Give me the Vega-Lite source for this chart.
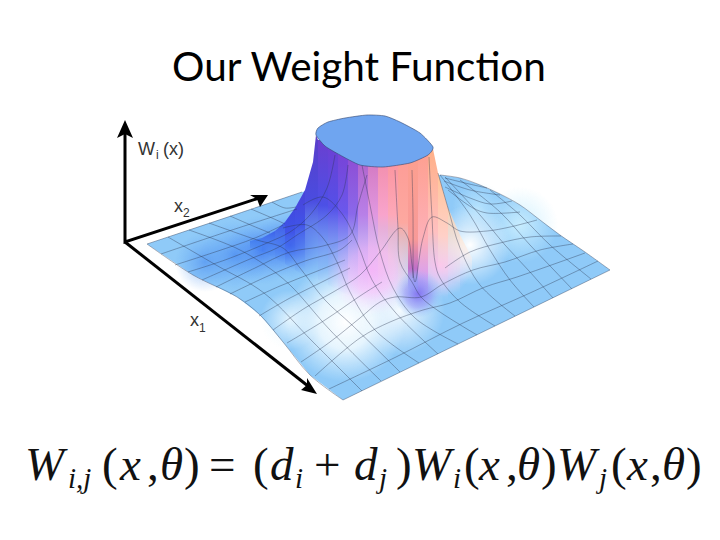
{"$schema":"https://vega.github.io/schema/vega-lite/v6.json","width":720,"height":540,"padding":0,"autosize":"none","background":"white","view":{"stroke":null},
"encoding":{"x":{"field":"x","type":"quantitative","scale":{"domain":[0,720],"nice":false,"zero":false},"axis":null},"y":{"field":"y","type":"quantitative","scale":{"domain":[540,0],"nice":false,"zero":false},"axis":null},"order":{"value":null}},
"layer":[
{"data":{"values":[{"x":147,"y":244},{"x":193,"y":275},{"x":237,"y":297},{"x":260,"y":315},{"x":283,"y":342},{"x":310,"y":375},{"x":343,"y":400},{"x":610,"y":270},{"x":585,"y":252},{"x":560,"y":235},{"x":540,"y":220},{"x":520,"y":205},{"x":500,"y":194},{"x":480,"y":185},{"x":460,"y":178},{"x":440,"y":175},{"x":400,"y":170},{"x":302,"y":192}]},"mark":{"type":"line","fill":"#8fcaf8","strokeWidth":0}},
{"data":{"values":[{"x":482,"y":187},{"x":558,"y":187},{"x":558,"y":263},{"x":482,"y":263}]},"mark":{"type":"line","strokeWidth":0,"fill":{"gradient":"radial","x1":0.5,"y1":0.5,"x2":0.5,"y2":0.5,"r1":0,"r2":0.5,"stops":[{"offset":0,"color":"rgba(205,240,255,0.9)"},{"offset":1,"color":"rgba(205,240,255,0)"}]}}},
{"data":{"values":[{"x":452,"y":182},{"x":504,"y":182},{"x":504,"y":234},{"x":452,"y":234}]},"mark":{"type":"line","strokeWidth":0,"fill":{"gradient":"radial","x1":0.5,"y1":0.5,"x2":0.5,"y2":0.5,"r1":0,"r2":0.5,"stops":[{"offset":0,"color":"rgba(190,232,255,0.8)"},{"offset":1,"color":"rgba(190,232,255,0)"}]}}},
{"data":{"values":[{"x":175,"y":232},{"x":235,"y":232},{"x":235,"y":292},{"x":175,"y":292}]},"mark":{"type":"line","strokeWidth":0,"fill":{"gradient":"radial","x1":0.5,"y1":0.5,"x2":0.5,"y2":0.5,"r1":0,"r2":0.5,"stops":[{"offset":0,"color":"rgba(70,135,240,0.6)"},{"offset":1,"color":"rgba(90,160,245,0)"}]}}},
{"data":{"values":[{"x":200,"y":220},{"x":270,"y":220},{"x":270,"y":290},{"x":200,"y":290}]},"mark":{"type":"line","strokeWidth":0,"fill":{"gradient":"radial","x1":0.5,"y1":0.5,"x2":0.5,"y2":0.5,"r1":0,"r2":0.5,"stops":[{"offset":0,"color":"rgba(60,125,240,0.65)"},{"offset":1,"color":"rgba(90,160,245,0)"}]}}},
{"data":{"values":[{"x":227,"y":215},{"x":297,"y":215},{"x":297,"y":285},{"x":227,"y":285}]},"mark":{"type":"line","strokeWidth":0,"fill":{"gradient":"radial","x1":0.5,"y1":0.5,"x2":0.5,"y2":0.5,"r1":0,"r2":0.5,"stops":[{"offset":0,"color":"rgba(50,105,240,0.75)"},{"offset":1,"color":"rgba(90,160,245,0)"}]}}},
{"data":{"values":[{"x":255,"y":210},{"x":325,"y":210},{"x":325,"y":280},{"x":255,"y":280}]},"mark":{"type":"line","strokeWidth":0,"fill":{"gradient":"radial","x1":0.5,"y1":0.5,"x2":0.5,"y2":0.5,"r1":0,"r2":0.5,"stops":[{"offset":0,"color":"rgba(50,90,240,0.8)"},{"offset":1,"color":"rgba(90,160,245,0)"}]}}},
{"data":{"values":[{"x":260,"y":290},{"x":320,"y":290},{"x":320,"y":350},{"x":260,"y":350}]},"mark":{"type":"line","strokeWidth":0,"fill":{"gradient":"radial","x1":0.5,"y1":0.5,"x2":0.5,"y2":0.5,"r1":0,"r2":0.5,"stops":[{"offset":0,"color":"rgba(235,248,255,0.9)"},{"offset":1,"color":"rgba(235,248,255,0)"}]}}},
{"data":{"values":[{"x":285,"y":262},{"x":405,"y":262},{"x":405,"y":382},{"x":285,"y":382}]},"mark":{"type":"line","strokeWidth":0,"fill":{"gradient":"radial","x1":0.5,"y1":0.5,"x2":0.5,"y2":0.5,"r1":0,"r2":0.5,"stops":[{"offset":0,"color":"rgba(255,255,255,1)"},{"offset":0.45,"color":"rgba(245,252,255,0.85)"},{"offset":1,"color":"rgba(235,248,255,0)"}]}}},
{"data":{"values":[{"x":355,"y":265},{"x":445,"y":265},{"x":445,"y":355},{"x":355,"y":355}]},"mark":{"type":"line","strokeWidth":0,"fill":{"gradient":"radial","x1":0.5,"y1":0.5,"x2":0.5,"y2":0.5,"r1":0,"r2":0.5,"stops":[{"offset":0,"color":"rgba(255,255,255,0.9)"},{"offset":1,"color":"rgba(255,255,255,0)"}]}}},
{"data":{"values":[{"x":430,"y":205},{"x":510,"y":205},{"x":510,"y":285},{"x":430,"y":285}]},"mark":{"type":"line","strokeWidth":0,"fill":{"gradient":"radial","x1":0.5,"y1":0.5,"x2":0.5,"y2":0.5,"r1":0,"r2":0.5,"stops":[{"offset":0,"color":"rgba(255,255,255,1)"},{"offset":1,"color":"rgba(255,255,255,0)"}]}}},
{"data":{"values":[{"x":327,"y":225},{"x":417,"y":225},{"x":417,"y":315},{"x":327,"y":315}]},"mark":{"type":"line","strokeWidth":0,"fill":{"gradient":"radial","x1":0.5,"y1":0.5,"x2":0.5,"y2":0.5,"r1":0,"r2":0.5,"stops":[{"offset":0,"color":"rgba(245,185,250,1)"},{"offset":0.5,"color":"rgba(250,205,252,0.8)"},{"offset":1,"color":"rgba(252,230,255,0)"}]}}},
{"data":{"values":[{"x":408,"y":233},{"x":472,"y":233},{"x":472,"y":297},{"x":408,"y":297}]},"mark":{"type":"line","strokeWidth":0,"fill":{"gradient":"radial","x1":0.5,"y1":0.5,"x2":0.5,"y2":0.5,"r1":0,"r2":0.5,"stops":[{"offset":0,"color":"rgba(250,190,250,1)"},{"offset":1,"color":"rgba(252,220,255,0)"}]}}},
{"data":{"values":[{"x":250,"y":241},{"x":262,"y":238},{"x":262,"y":252},{"x":250,"y":248}]},"mark":{"type":"line","strokeWidth":0,"fill":{"gradient":"linear","x1":0,"y1":0,"x2":0,"y2":1,"stops":[{"offset":0,"color":"#3f78ee"},{"offset":1,"color":"rgba(60,120,240,0)"}]}}},
{"data":{"values":[{"x":262,"y":238},{"x":275,"y":231},{"x":275,"y":258},{"x":262,"y":252}]},"mark":{"type":"line","strokeWidth":0,"fill":{"gradient":"linear","x1":0,"y1":0,"x2":0,"y2":1,"stops":[{"offset":0,"color":"#3c60ea"},{"offset":1,"color":"rgba(60,120,240,0)"}]}}},
{"data":{"values":[{"x":275,"y":231},{"x":285,"y":222},{"x":285,"y":264},{"x":275,"y":258}]},"mark":{"type":"line","strokeWidth":0,"fill":{"gradient":"linear","x1":0,"y1":0,"x2":0,"y2":1,"stops":[{"offset":0,"color":"#3c52e6"},{"offset":1,"color":"rgba(60,120,240,0)"}]}}},
{"data":{"values":[{"x":285,"y":222},{"x":295,"y":208},{"x":295,"y":270},{"x":285,"y":264}]},"mark":{"type":"line","strokeWidth":0,"fill":{"gradient":"linear","x1":0,"y1":0,"x2":0,"y2":1,"stops":[{"offset":0,"color":"#4048e0"},{"offset":0.4,"color":"#3f55e8"},{"offset":1,"color":"rgba(60,120,240,0)"}]}}},
{"data":{"values":[{"x":295,"y":208},{"x":305,"y":190},{"x":305,"y":276},{"x":295,"y":270}]},"mark":{"type":"line","strokeWidth":0,"fill":{"gradient":"linear","x1":0,"y1":0,"x2":0,"y2":1,"stops":[{"offset":0,"color":"#4a42d8"},{"offset":0.4,"color":"#4052e8"},{"offset":1,"color":"rgba(70,120,240,0)"}]}}},
{"data":{"values":[{"x":305,"y":190},{"x":313,"y":162},{"x":316,"y":135},{"x":318,"y":140},{"x":318,"y":280},{"x":305,"y":276}]},"mark":{"type":"line","strokeWidth":0,"fill":{"gradient":"linear","x1":0,"y1":0,"x2":0,"y2":1,"stops":[{"offset":0,"color":"#5a3ec8"},{"offset":0.45,"color":"#4a4ce0"},{"offset":1,"color":"rgba(90,130,240,0)"}]}}},
{"data":{"values":[{"x":318,"y":140},{"x":328,"y":140},{"x":328,"y":285},{"x":318,"y":280}]},"mark":{"type":"line","strokeWidth":0,"fill":{"gradient":"linear","x1":0,"y1":0,"x2":0,"y2":1,"stops":[{"offset":0,"color":"#6a3fd0"},{"offset":0.45,"color":"#4c50e6"},{"offset":1,"color":"rgba(110,140,245,0)"}]}}},
{"data":{"values":[{"x":328,"y":140},{"x":338,"y":145},{"x":338,"y":290},{"x":328,"y":285}]},"mark":{"type":"line","strokeWidth":0,"fill":{"gradient":"linear","x1":0,"y1":0,"x2":0,"y2":1,"stops":[{"offset":0,"color":"#6e3ed2"},{"offset":0.45,"color":"#5450e8"},{"offset":1,"color":"rgba(140,150,245,0)"}]}}},
{"data":{"values":[{"x":338,"y":145},{"x":348,"y":145},{"x":348,"y":295},{"x":338,"y":290}]},"mark":{"type":"line","strokeWidth":0,"fill":{"gradient":"linear","x1":0,"y1":0,"x2":0,"y2":1,"stops":[{"offset":0,"color":"#7a40d4"},{"offset":0.45,"color":"#6a58ec"},{"offset":1,"color":"rgba(180,170,250,0)"}]}}},
{"data":{"values":[{"x":348,"y":145},{"x":358,"y":145},{"x":358,"y":298},{"x":348,"y":295}]},"mark":{"type":"line","strokeWidth":0,"fill":{"gradient":"linear","x1":0,"y1":0,"x2":0,"y2":1,"stops":[{"offset":0,"color":"#9048d0"},{"offset":0.45,"color":"#8a68ea"},{"offset":1,"color":"rgba(225,190,250,0)"}]}}},
{"data":{"values":[{"x":358,"y":145},{"x":368,"y":145},{"x":368,"y":300},{"x":358,"y":298}]},"mark":{"type":"line","strokeWidth":0,"fill":{"gradient":"linear","x1":0,"y1":0,"x2":0,"y2":1,"stops":[{"offset":0,"color":"#b05cc4"},{"offset":0.45,"color":"#b880e8"},{"offset":1,"color":"rgba(245,190,250,0)"}]}}},
{"data":{"values":[{"x":368,"y":145},{"x":378,"y":145},{"x":378,"y":300},{"x":368,"y":300}]},"mark":{"type":"line","strokeWidth":0,"fill":{"gradient":"linear","x1":0,"y1":0,"x2":0,"y2":1,"stops":[{"offset":0,"color":"#d070b8"},{"offset":0.45,"color":"#e098e0"},{"offset":1,"color":"rgba(250,190,250,0)"}]}}},
{"data":{"values":[{"x":378,"y":145},{"x":388,"y":145},{"x":388,"y":300},{"x":378,"y":300}]},"mark":{"type":"line","strokeWidth":0,"fill":{"gradient":"linear","x1":0,"y1":0,"x2":0,"y2":1,"stops":[{"offset":0,"color":"#f088a4"},{"offset":0.45,"color":"#f8a4cc"},{"offset":1,"color":"rgba(250,195,245,0)"}]}}},
{"data":{"values":[{"x":388,"y":145},{"x":398,"y":145},{"x":398,"y":300},{"x":388,"y":300}]},"mark":{"type":"line","strokeWidth":0,"fill":{"gradient":"linear","x1":0,"y1":0,"x2":0,"y2":1,"stops":[{"offset":0,"color":"#fb8f98"},{"offset":0.45,"color":"#fda8b8"},{"offset":1,"color":"rgba(252,205,240,0)"}]}}},
{"data":{"values":[{"x":398,"y":145},{"x":408,"y":145},{"x":408,"y":300},{"x":398,"y":300}]},"mark":{"type":"line","strokeWidth":0,"fill":{"gradient":"linear","x1":0,"y1":0,"x2":0,"y2":1,"stops":[{"offset":0,"color":"#fd9a94"},{"offset":0.5,"color":"#fda8a0"},{"offset":1,"color":"rgba(252,225,240,0)"}]}}},
{"data":{"values":[{"x":408,"y":145},{"x":418,"y":145},{"x":418,"y":290},{"x":408,"y":290}]},"mark":{"type":"line","strokeWidth":0,"fill":{"gradient":"linear","x1":0,"y1":0,"x2":0,"y2":1,"stops":[{"offset":0,"color":"#fda08e"},{"offset":0.65,"color":"#f89a98"},{"offset":0.85,"color":"#c070c8"},{"offset":1,"color":"rgba(140,110,240,0)"}]}}},
{"data":{"values":[{"x":418,"y":145},{"x":428,"y":150},{"x":428,"y":300},{"x":418,"y":300}]},"mark":{"type":"line","strokeWidth":0,"fill":{"gradient":"linear","x1":0,"y1":0,"x2":0,"y2":1,"stops":[{"offset":0,"color":"#fe9e8c"},{"offset":0.6,"color":"#fdb0b8"},{"offset":0.85,"color":"#d8a0f0"},{"offset":1,"color":"rgba(200,170,250,0)"}]}}},
{"data":{"values":[{"x":428,"y":152},{"x":433,"y":149},{"x":438,"y":173},{"x":438,"y":300},{"x":428,"y":300}]},"mark":{"type":"line","strokeWidth":0,"fill":{"gradient":"linear","x1":0,"y1":0,"x2":0,"y2":1,"stops":[{"offset":0,"color":"#ffb088"},{"offset":0.55,"color":"#ffc0c0"},{"offset":1,"color":"rgba(248,200,250,0)"}]}}},
{"data":{"values":[{"x":438,"y":173},{"x":448,"y":208},{"x":448,"y":300},{"x":438,"y":300}]},"mark":{"type":"line","strokeWidth":0,"fill":{"gradient":"linear","x1":0,"y1":0,"x2":0,"y2":1,"stops":[{"offset":0,"color":"#ffc498"},{"offset":0.5,"color":"#ffd0c8"},{"offset":1,"color":"rgba(250,210,250,0)"}]}}},
{"data":{"values":[{"x":448,"y":208},{"x":460,"y":235},{"x":460,"y":295},{"x":448,"y":295}]},"mark":{"type":"line","strokeWidth":0,"fill":{"gradient":"linear","x1":0,"y1":0,"x2":0,"y2":1,"stops":[{"offset":0,"color":"#ffd4b0"},{"offset":1,"color":"rgba(255,235,245,0)"}]}}},
{"data":{"values":[{"x":460,"y":235},{"x":472,"y":258},{"x":472,"y":280},{"x":460,"y":280}]},"mark":{"type":"line","strokeWidth":0,"fill":{"gradient":"linear","x1":0,"y1":0,"x2":0,"y2":1,"stops":[{"offset":0,"color":"rgba(255,230,210,0.9)"},{"offset":1,"color":"rgba(255,245,250,0)"}]}}},
{"data":{"values":[{"x":394,"y":270},{"x":442,"y":270},{"x":442,"y":318},{"x":394,"y":318}]},"mark":{"type":"line","strokeWidth":0,"fill":{"gradient":"radial","x1":0.5,"y1":0.5,"x2":0.5,"y2":0.5,"r1":0,"r2":0.5,"stops":[{"offset":0,"color":"rgba(125,105,240,0.9)"},{"offset":0.55,"color":"rgba(140,140,245,0.55)"},{"offset":1,"color":"rgba(140,190,250,0)"}]}}},
{"data":{"values":[
{"g":"e1","x":147,"y":244},{"g":"e1","x":193,"y":275},{"g":"e1","x":237,"y":297},{"g":"e1","x":260,"y":315},{"g":"e1","x":283,"y":342},{"g":"e1","x":310,"y":375},{"g":"e1","x":343,"y":400},
{"g":"e2","x":343,"y":400},{"g":"e2","x":610,"y":270},
{"g":"e3","x":610,"y":270},{"g":"e3","x":585,"y":252},{"g":"e3","x":560,"y":235},{"g":"e3","x":540,"y":220},{"g":"e3","x":520,"y":205},{"g":"e3","x":500,"y":194},{"g":"e3","x":480,"y":185},{"g":"e3","x":460,"y":178},{"g":"e3","x":440,"y":175},
{"g":"e4","x":147,"y":244},{"g":"e4","x":225,"y":218},{"g":"e4","x":302,"y":192},
{"g":"j1","x":161,"y":254},{"g":"j1","x":229,"y":231},{"g":"j1","x":297,"y":209},
{"g":"j2","x":175,"y":265},{"g":"j2","x":215,"y":252},{"g":"j2","x":255,"y":238},{"g":"j2","x":283,"y":225},
{"g":"j3","x":188,"y":272},{"g":"j3","x":225,"y":260},{"g":"j3","x":267,"y":243},{"g":"j3","x":290,"y":232},{"g":"j3","x":310,"y":215},{"g":"j3","x":327,"y":188},{"g":"j3","x":335,"y":155},
{"g":"j4","x":202,"y":280},{"g":"j4","x":250,"y":259},{"g":"j4","x":277,"y":248},{"g":"j4","x":297,"y":235},{"g":"j4","x":327,"y":215},{"g":"j4","x":342,"y":195},{"g":"j4","x":348,"y":165},
{"g":"j5","x":216,"y":287},{"g":"j5","x":255,"y":268},{"g":"j5","x":290,"y":252},{"g":"j5","x":323,"y":246},{"g":"j5","x":350,"y":235},{"g":"j5","x":358,"y":205},{"g":"j5","x":367,"y":175},
{"g":"j6","x":230,"y":294},{"g":"j6","x":268,"y":276},{"g":"j6","x":305,"y":261},{"g":"j6","x":340,"y":250},{"g":"j6","x":352,"y":240},
{"g":"j7","x":245,"y":302},{"g":"j7","x":280,"y":286},{"g":"j7","x":315,"y":272},{"g":"j7","x":345,"y":260},
{"g":"j8","x":259,"y":316},{"g":"j8","x":290,"y":298},{"g":"j8","x":320,"y":283},{"g":"j8","x":350,"y":268},
{"g":"j9","x":273,"y":330},{"g":"j9","x":305,"y":308},{"g":"j9","x":335,"y":291},{"g":"j9","x":360,"y":275},{"g":"j9","x":380,"y":252},{"g":"j9","x":400,"y":228},{"g":"j9","x":408,"y":238},{"g":"j9","x":412,"y":265},{"g":"j9","x":415,"y":282},{"g":"j9","x":423,"y":238},{"g":"j9","x":432,"y":217},{"g":"j9","x":447,"y":223},{"g":"j9","x":460,"y":231},{"g":"j9","x":487,"y":231},{"g":"j9","x":510,"y":227},{"g":"j9","x":537,"y":220},
{"g":"j10","x":287,"y":343},{"g":"j10","x":325,"y":320},{"g":"j10","x":360,"y":296},{"g":"j10","x":382,"y":282},
{"g":"j10r","x":445,"y":268},{"g":"j10r","x":470,"y":252},{"g":"j10r","x":500,"y":243},{"g":"j10r","x":530,"y":237},{"g":"j10r","x":561,"y":236},
{"g":"j11","x":301,"y":362},{"g":"j11","x":330,"y":342},{"g":"j11","x":360,"y":318},{"g":"j11","x":380,"y":302},{"g":"j11","x":395,"y":297},{"g":"j11","x":421,"y":297},{"g":"j11","x":443,"y":284},{"g":"j11","x":473,"y":270},{"g":"j11","x":505,"y":262},{"g":"j11","x":540,"y":250},{"g":"j11","x":573,"y":244},
{"g":"j12","x":315,"y":376},{"g":"j12","x":360,"y":338},{"g":"j12","x":390,"y":322},{"g":"j12","x":423,"y":310},{"g":"j12","x":450,"y":303},{"g":"j12","x":485,"y":287},{"g":"j12","x":517,"y":277},{"g":"j12","x":585,"y":253},
{"g":"j13","x":329,"y":389},{"g":"j13","x":396,"y":357},{"g":"j13","x":463,"y":323},{"g":"j13","x":530,"y":293},{"g":"j13","x":598,"y":261},
{"g":"r1","x":448,"y":190},{"g":"r1","x":473,"y":208},{"g":"r1","x":487,"y":213},{"g":"r1","x":520,"y":212},
{"g":"r2","x":445,"y":187},{"g":"r2","x":470,"y":198},{"g":"r2","x":490,"y":204},{"g":"r2","x":512,"y":201},
{"g":"r3","x":444,"y":181},{"g":"r3","x":470,"y":190},{"g":"r3","x":500,"y":195},
{"g":"r4","x":445,"y":178},{"g":"r4","x":465,"y":183},{"g":"r4","x":487,"y":188},
{"g":"k1","x":168,"y":237},{"g":"k1","x":216,"y":265},{"g":"k1","x":264,"y":293},{"g":"k1","x":313,"y":342},{"g":"k1","x":362,"y":391},
{"g":"k2","x":189,"y":230},{"g":"k2","x":236,"y":248},{"g":"k2","x":265,"y":265},{"g":"k2","x":290,"y":285},{"g":"k2","x":330,"y":330},{"g":"k2","x":381,"y":381},
{"g":"k3","x":209,"y":223},{"g":"k3","x":257,"y":240},{"g":"k3","x":283,"y":248},{"g":"k3","x":300,"y":268},{"g":"k3","x":325,"y":300},{"g":"k3","x":352,"y":325},{"g":"k3","x":400,"y":372},
{"g":"k4","x":283,"y":228},{"g":"k4","x":307,"y":225},{"g":"k4","x":323,"y":238},{"g":"k4","x":337,"y":262},{"g":"k4","x":350,"y":292},{"g":"k4","x":375,"y":330},{"g":"k4","x":419,"y":363},
{"g":"k4b","x":230,"y":216},{"g":"k4b","x":253,"y":226},{"g":"k4b","x":270,"y":233},
{"g":"k5","x":303,"y":205},{"g":"k5","x":323,"y":197},{"g":"k5","x":343,"y":215},{"g":"k5","x":358,"y":245},{"g":"k5","x":372,"y":280},{"g":"k5","x":395,"y":312},{"g":"k5","x":438,"y":354},
{"g":"k5b","x":251,"y":209},{"g":"k5b","x":272,"y":218},{"g":"k5b","x":285,"y":224},
{"g":"k6b","x":272,"y":202},{"g":"k6b","x":285,"y":208},{"g":"k6b","x":296,"y":207},
{"g":"k6","x":362,"y":165},{"g":"k6","x":370,"y":205},{"g":"k6","x":380,"y":252},{"g":"k6","x":393,"y":288},{"g":"k6","x":415,"y":318},{"g":"k6","x":458,"y":344},
{"g":"k7","x":395,"y":170},{"g":"k7","x":398,"y":228},{"g":"k7","x":400,"y":262},{"g":"k7","x":412,"y":282},{"g":"k7","x":421,"y":297},{"g":"k7","x":440,"y":312},{"g":"k7","x":477,"y":335},
{"g":"k7n","x":412,"y":170},{"g":"k7n","x":413,"y":215},{"g":"k7n","x":413,"y":278},
{"g":"k8","x":429,"y":157},{"g":"k8","x":432,"y":217},{"g":"k8","x":435,"y":262},{"g":"k8","x":440,"y":278},{"g":"k8","x":460,"y":302},{"g":"k8","x":495,"y":326},
{"g":"k9","x":438,"y":173},{"g":"k9","x":448,"y":208},{"g":"k9","x":460,"y":248},{"g":"k9","x":480,"y":285},{"g":"k9","x":515,"y":316},
{"g":"k10","x":440,"y":175},{"g":"k10","x":470,"y":215},{"g":"k10","x":490,"y":250},{"g":"k10","x":510,"y":280},{"g":"k10","x":534,"y":307},
{"g":"k11","x":445,"y":177},{"g":"k11","x":480,"y":215},{"g":"k11","x":505,"y":245},{"g":"k11","x":530,"y":272},{"g":"k11","x":553,"y":298},
{"g":"k12","x":460,"y":180},{"g":"k12","x":500,"y":212},{"g":"k12","x":530,"y":245},{"g":"k12","x":552,"y":268},{"g":"k12","x":572,"y":289},
{"g":"k13","x":490,"y":190},{"g":"k13","x":520,"y":215},{"g":"k13","x":550,"y":245},{"g":"k13","x":591,"y":279}
]},"mark":{"type":"line","interpolate":"catmull-rom","stroke":"#2c3550","strokeWidth":0.6,"strokeOpacity":0.65},"encoding":{"detail":{"field":"g"}}},
{"data":{"values":[{"x":316,"y":135},{"x":318,"y":128},{"x":328,"y":122},{"x":345,"y":118},{"x":367,"y":115},{"x":385,"y":116},{"x":400,"y":122},{"x":420,"y":133},{"x":433,"y":147},{"x":428,"y":155},{"x":410,"y":163},{"x":383,"y":167},{"x":360,"y":165},{"x":340,"y":155},{"x":325,"y":146}]},"mark":{"type":"line","interpolate":"cardinal-closed","tension":0.4,"fill":"#6fa5f0","stroke":"#34466e","strokeWidth":0.6}},
{"data":{"values":[{"g":"z","x":125,"y":132},{"g":"z","x":125,"y":242},{"g":"z","x":259,"y":198},{"g":"x1","x":125,"y":242},{"g":"x1","x":308,"y":386}]},"mark":{"type":"line","stroke":"black","strokeWidth":3,"strokeJoin":"miter"},"encoding":{"detail":{"field":"g"}}},
{"data":{"values":[{"x":125,"y":120},{"x":133,"y":138},{"x":125,"y":134},{"x":117,"y":138}]},"mark":{"type":"line","fill":"black","strokeWidth":0}},
{"data":{"values":[{"x":268,"y":195},{"x":260,"y":207},{"x":257,"y":199},{"x":250,"y":195}]},"mark":{"type":"line","fill":"black","strokeWidth":0}},
{"data":{"values":[{"x":317,"y":394},{"x":301,"y":390},{"x":307,"y":385},{"x":307,"y":378}]},"mark":{"type":"line","fill":"black","strokeWidth":0}},
{"data":{"values":[{"t":"Our Weight Function","x":359,"y":81}]},"mark":{"type":"text","font":"Lato","fontSize":40.5,"align":"center","baseline":"alphabetic","color":"#000000"},"encoding":{"text":{"field":"t"}}},
{"data":{"values":[{"t":"W","x":138,"y":155},{"t":"(x)","x":163,"y":155},{"t":"x","x":174,"y":212},{"t":"x","x":190,"y":326}]},"mark":{"type":"text","font":"Liberation Sans","fontSize":18,"align":"left","baseline":"alphabetic","color":"#333333"},"encoding":{"text":{"field":"t"}}},
{"data":{"values":[{"t":"i","x":156,"y":159},{"t":"2","x":183,"y":217},{"t":"1","x":199,"y":332}]},"mark":{"type":"text","font":"Liberation Sans","fontSize":12,"align":"left","baseline":"alphabetic","color":"#333333"},"encoding":{"text":{"field":"t"}}},
{"data":{"values":[{"t":"W","x":25,"y":480},{"t":"x","x":120,"y":480},{"t":"θ","x":160,"y":480},{"t":"d","x":270,"y":480},{"t":"d","x":354,"y":480},{"t":"W","x":412,"y":480},{"t":"x","x":479,"y":480},{"t":"θ","x":517,"y":480},{"t":"W","x":557,"y":480},{"t":"x","x":627,"y":480},{"t":"θ","x":662,"y":480}]},"mark":{"type":"text","font":"Liberation Serif","fontStyle":"italic","fontSize":47,"align":"left","baseline":"alphabetic","color":"#111111"},"encoding":{"text":{"field":"t"}}},
{"data":{"values":[{"t":"(","x":102,"y":480},{"t":",","x":147,"y":480},{"t":")","x":184,"y":480},{"t":"=","x":209,"y":480},{"t":"(","x":253,"y":480},{"t":"+","x":314,"y":480},{"t":")","x":396,"y":480},{"t":"(","x":464,"y":480},{"t":",","x":506,"y":480},{"t":")","x":541,"y":480},{"t":"(","x":611,"y":480},{"t":",","x":650,"y":480},{"t":")","x":686,"y":480}]},"mark":{"type":"text","font":"Liberation Serif","fontSize":47,"align":"left","baseline":"alphabetic","color":"#111111"},"encoding":{"text":{"field":"t"}}},
{"data":{"values":[{"t":"i,j","x":68,"y":488},{"t":"i","x":295,"y":488},{"t":"j","x":379,"y":488},{"t":"i","x":453,"y":488},{"t":"j","x":599,"y":488}]},"mark":{"type":"text","font":"Liberation Serif","fontStyle":"italic","fontSize":29,"align":"left","baseline":"alphabetic","color":"#111111"},"encoding":{"text":{"field":"t"}}}
]}
